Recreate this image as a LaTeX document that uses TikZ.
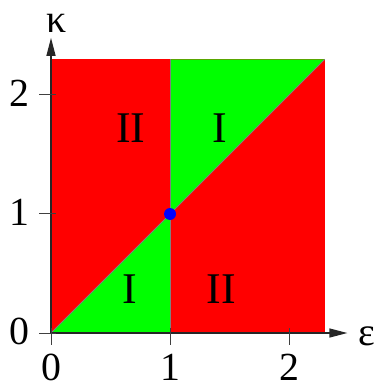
\documentclass[tikz,border=0pt]{standalone}
\usepackage{fontspec}
\setmainfont{Liberation Serif}
\usetikzlibrary{arrows.meta}

\begin{document}
\begin{tikzpicture}[
		x=4.2cm, y=4.2cm,
		axis/.style={line width=1.3pt, black!85, -{Triangle[length=18pt, width=9pt]}},
		tick/.style={line width=1pt, black!75},
		border/.style={gray, line width=1pt},
		ticklabel/.style={font=\fontsize{40}{40}\selectfont, inner sep=0pt},
		axislabel/.style={font=\fontsize{40}{40}\selectfont, inner sep=0pt},
		region/.style={font=\fontsize{44}{44}\selectfont, inner sep=0pt},
		dot/.style={circle, fill=blue, minimum size=12pt, inner sep=0pt}
		]
		
		\useasboundingbox (-0.4286,-0.462) rectangle (2.731,2.798);
		
		% Regions II (red) and I (green)
		\fill[red] (0,0) rectangle (2.3,2.3);
		\fill[green] (0,0) -- (1,0) -- (1,1) -- cycle;
		\fill[green] (1,1) -- (1,2.3) -- (2.3,2.3) -- cycle;
		
		% Borders between the regions
		\draw[border] (1,0) -- (1,2.3);
		\draw[border] (0,0) -- (2.3,2.3);
		
		% Axes
		\coordinate (O) at (0,0);
		\coordinate (xend) at (2.49,0);
		\coordinate (yend) at (0,2.48);
		\draw[axis] (O) -- (xend);
		\draw[axis] (O) -- (yend);
		\node[axislabel] (eps) at (2.65,-0.03) {ε};
		\node[axislabel] (kappa) at (0.05,2.6) {κ};
		
		% Ticks and tick labels
		\foreach \v in {0,1,2} {
			\draw[tick] (\v,-0.1) -- (\v,0.042);
			\draw[tick] (-0.1,\v) -- (0.042,\v);
			\node[ticklabel] (xl\v) at (\v,-0.29) {\v};
			\node[ticklabel] (yl\v) at (-0.265,\v+0.015) {\v};
		}
		
		% Region labels
		\foreach \x/\y/\n/\txt in {0.67/1.72/ul/II, 1.42/1.72/ur/I, 0.66/0.37/ll/I, 1.43/0.37/lr/II} {
			\node[region] (reg\n) at (\x,\y) {\txt};
		}
		
		% Point (1,1)
		\node[dot] (P) at (1,1) {};
		
	\end{tikzpicture}
\end{document}
